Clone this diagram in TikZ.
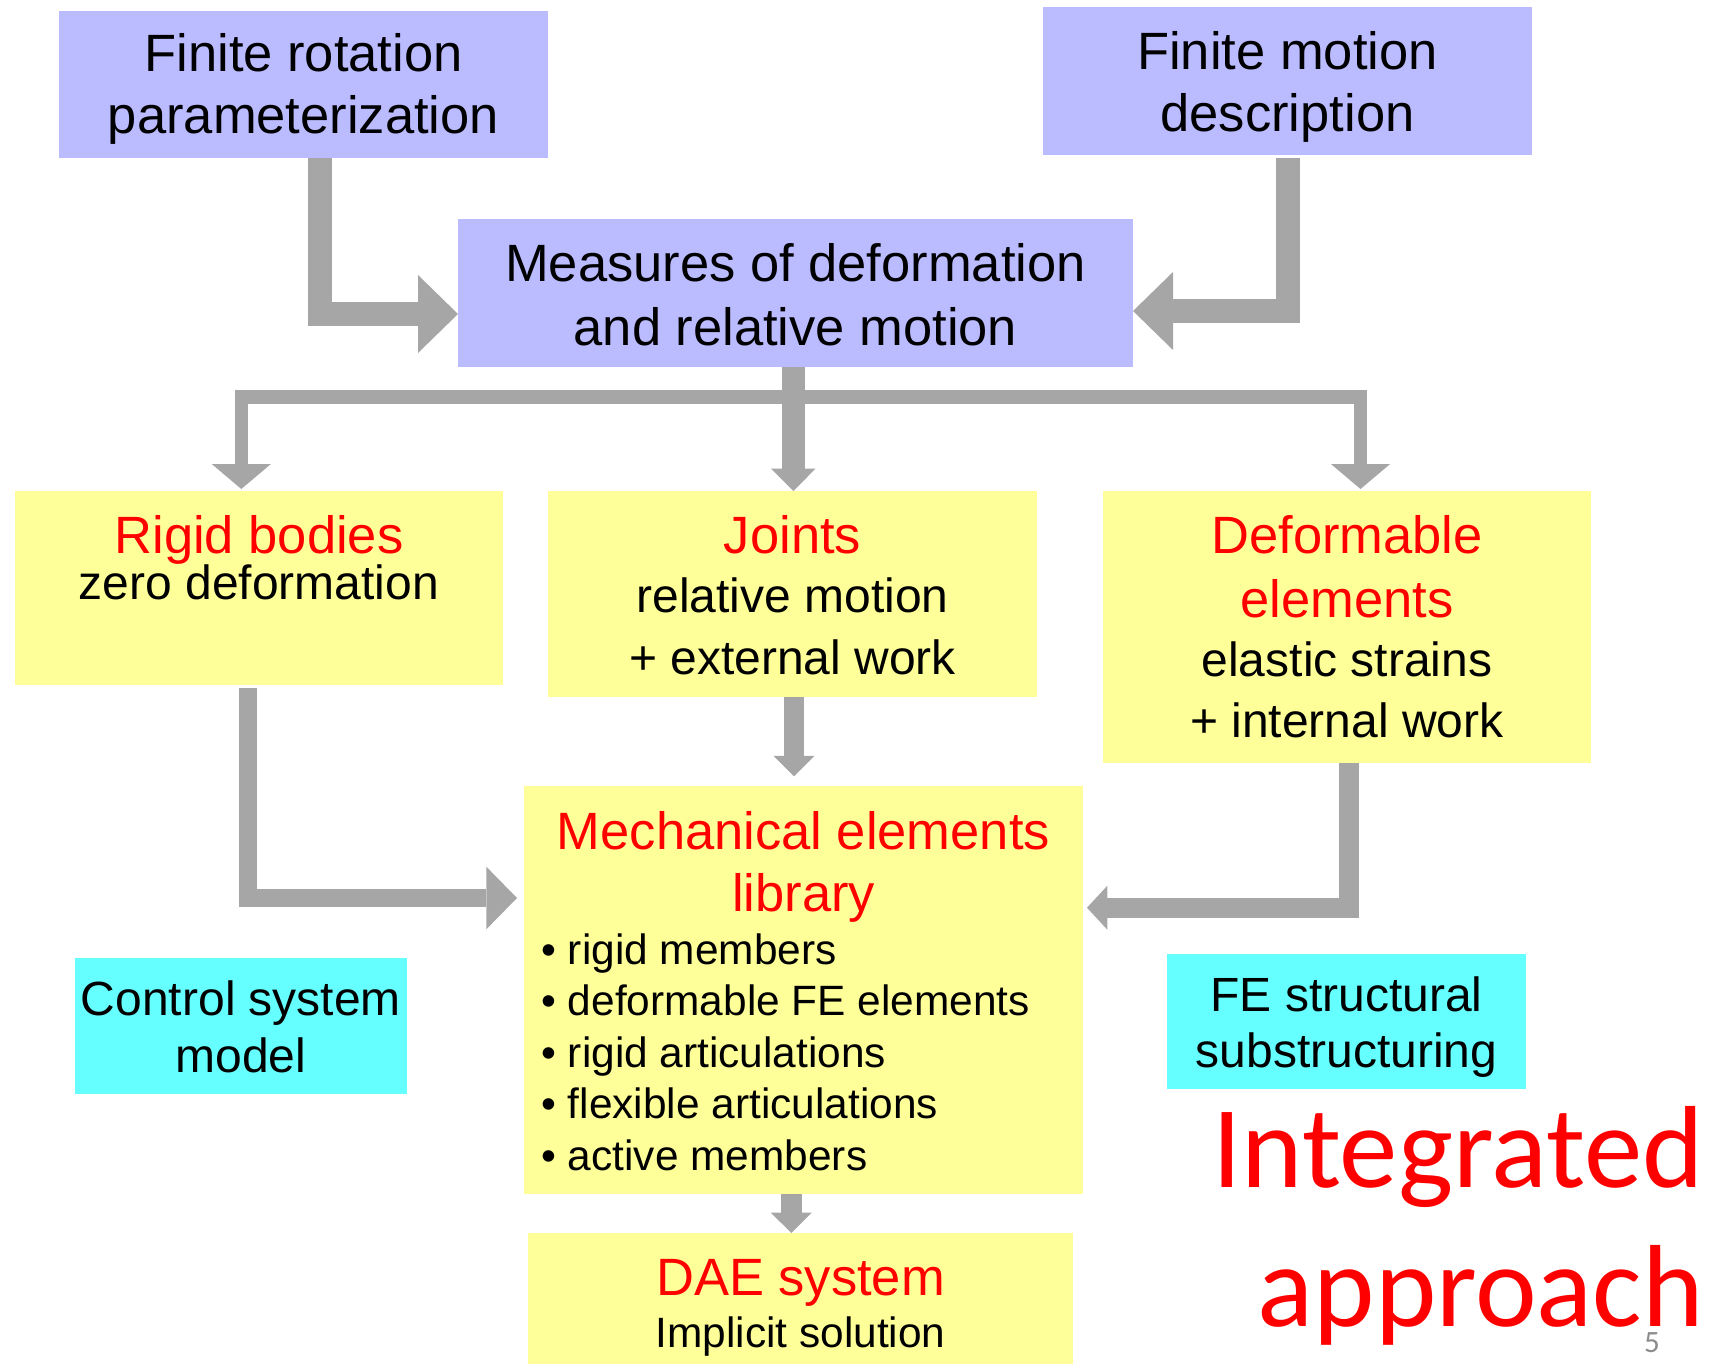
\documentclass[tikz,border=0pt]{standalone}
\usepackage{fontspec}
\setmainfont{Liberation Sans}
\newfontfamily\slidefont{Carlito}
\usetikzlibrary{arrows.meta}

\definecolor{boxblue}{HTML}{BBBBFF}
\definecolor{boxyellow}{HTML}{FFFF99}
\definecolor{boxcyan}{HTML}{66FFFF}
\definecolor{arrowgray}{HTML}{A6A6A6}
\definecolor{titlered}{HTML}{FF0000}
\definecolor{pagegray}{HTML}{8C8C8C}

\newcommand{\bigtext}{\fontsize{26.25pt}{31.25pt}\selectfont}
\newcommand{\midtext}{\fontsize{24pt}{28.5pt}\selectfont}
\newcommand{\smalltext}{\fontsize{21.2pt}{25.75pt}\selectfont}
\newcommand{\redtitle}[1]{\textcolor{titlered}{#1}}

\begin{document}
\begin{tikzpicture}[x=0.5pt, y=-0.5pt,
    box/.style={inner sep=0pt, outer sep=0pt, align=center, anchor=base, font=\bigtext},
    bluebox/.style={box, fill=boxblue},
    yellowbox/.style={box, fill=boxyellow},
    cyanbox/.style={box, fill=boxcyan, font=\midtext},
    listtext/.style={inner sep=0pt, align=left, anchor=base west, font=\smalltext},
    bigarrow/.style={draw=arrowgray, line width=12pt, -{Triangle[length=20pt, width=39pt, line width=0pt]}},
    forkarrow/.style={draw=arrowgray, line width=6.8pt, -{Triangle[length=12.5pt, width=29.6pt, line width=0pt]}},
    midarrow/.style={draw=arrowgray, line width=11.3pt, -{Triangle[length=11.2pt, width=22.3pt, line width=0pt]}},
    lowarrow/.style={draw=arrowgray, line width=9pt, -{Triangle[length=15.35pt, width=31.3pt, line width=0pt]}},
    rightarrow/.style={draw=arrowgray, line width=10pt, -{Triangle[length=10.15pt, width=22pt, line width=0pt]}},
    shortarrow/.style={draw=arrowgray, line width=10.3pt, -{Triangle[length=10.2pt, width=20.5pt, line width=0pt]}}
  ]
    \useasboundingbox (0,0) rectangle (1718,1364);

    % Nodes (top row), each placed on the baseline of its last line
    \node[bluebox, minimum width=244.5pt, text height=61.5pt, text depth=12pt] (rotation) at (303.5,134)
      {Finite rotation\\parameterization};
    \node[bluebox, minimum width=244.5pt, text height=62.35pt, text depth=11.65pt] (motion) at (1287.5,131.7)
      {Finite motion\\description};
    \node[bluebox, minimum width=337.5pt, text height=63pt, text depth=11pt] (measures) at (795.5,345)
      {Measures of deformation\\[0.75pt]and relative motion};

    % Nodes (middle row)
    \node[yellowbox, minimum width=244pt, text height=54pt, text depth=43pt] (rigid) at (259,599)
      {\redtitle{Rigid bodies}\\[-8.25pt]{\midtext zero deformation}};
    \node[yellowbox, minimum width=244.5pt, text height=91.5pt, text depth=11.5pt] (joints) at (792.5,674)
      {\redtitle{Joints}\\[-1.75pt]{\midtext relative motion}\\[-0.25pt]{\midtext + external work}};
    \node[yellowbox, minimum width=244pt, text height=123pt, text depth=13pt] (deform) at (1347,737)
      {\redtitle{Deformable}\\[0.75pt]\redtitle{elements}\\[-1.75pt]{\midtext elastic strains}\\[-0.75pt]{\midtext + internal work}};

    % Nodes (lower part)
    \node[yellowbox, minimum width=279.5pt, text height=62.5pt, text depth=141.5pt] (mech) at (803.5,911)
      {\redtitle{Mechanical elements}\\[-0.25pt]\redtitle{library}};
    \node[listtext] (mechlist) at (541,1170)
      {\textbullet\ rigid members\\
       \textbullet\ deformable FE elements\\
       \textbullet\ rigid articulations\\
       \textbullet\ flexible articulations\\
       \textbullet\ active members};
    \node[cyanbox, minimum width=166pt, text height=57pt, text depth=11pt] (control) at (241,1072)
      {Control system\\model};
    \node[cyanbox, minimum width=179.5pt, text height=56.5pt, text depth=11pt] (festruct) at (1346.5,1067)
      {FE structural\\[-0.5pt]substructuring};
    \node[yellowbox, minimum width=272.5pt, text height=57pt, text depth=9.5pt] (dae) at (800.5,1347)
      {\redtitle{DAE system}\\[-5.25pt]{\smalltext Implicit solution}};

    % Slide caption
    \node[inner sep=0pt, anchor=base east, align=right, text=titlered,
      font=\slidefont\fontsize{58.4pt}{69.5pt}\selectfont] (integrated) at (1704,1326) {Integrated\\approach};
    \node[inner sep=0pt, anchor=base, text=pagegray,
      font=\slidefont\fontsize{15.5pt}{18pt}\selectfont] (pagenum) at (1652,1352) {5};

    % Connections
    \coordinate (fork) at (793.3,396.7);
    \draw[bigarrow] ([xshift=8.4pt]rotation.south) |- ([yshift=-10.5pt]measures.west);
    \draw[bigarrow] ([yshift=-1.6pt]motion.south) |- ([yshift=-9pt]measures.east);
    \draw[forkarrow] (fork) -| ([xshift=-8.85pt,yshift=1pt]rigid.north);
    \draw[forkarrow] (fork) -| ([xshift=6.75pt,yshift=1pt]deform.north);
    \draw[midarrow] (measures.south -| fork) -- (joints.north -| fork);
    \draw[lowarrow] ([xshift=-5.35pt,yshift=-1.5pt]rigid.south) |- ([xshift=-3.5pt,yshift=46pt]mech.west);
    \draw[rightarrow] ([xshift=0.75pt]deform.south) |- ([xshift=2pt,yshift=41.15pt]mech.east);
    \draw[shortarrow] ([xshift=0.75pt]joints.south) -- ([xshift=0.75pt,yshift=4.85pt]joints.south |- mech.north);
    \draw[shortarrow] ([xshift=-6.1pt]mech.south) -- ([xshift=-6.1pt]mech.south |- dae.north);

  \end{tikzpicture}
\end{document}
